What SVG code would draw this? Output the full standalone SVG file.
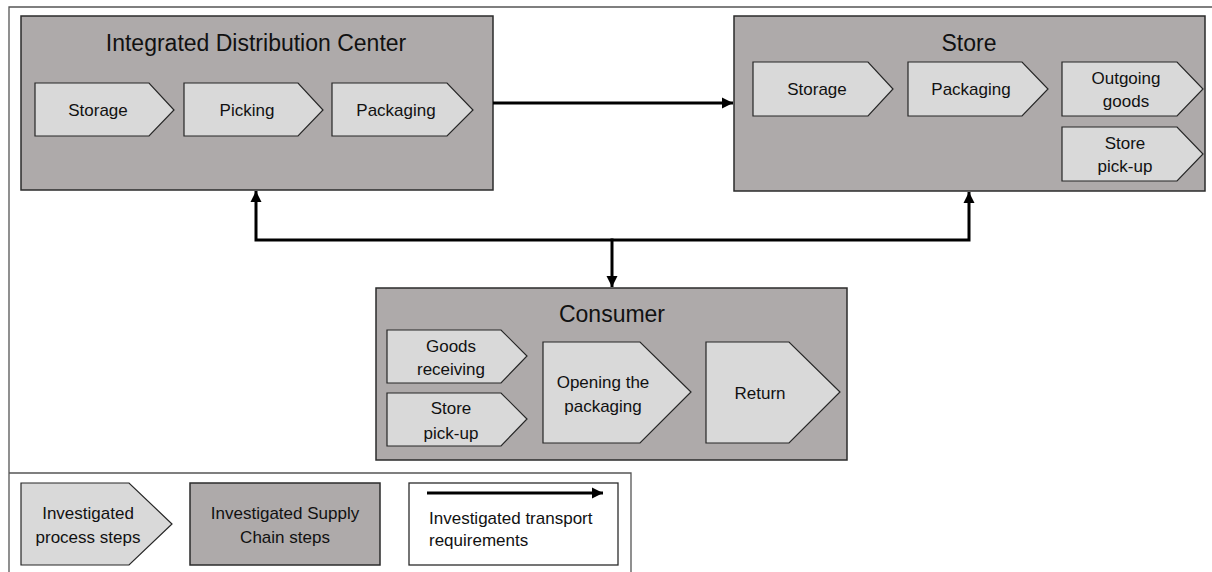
<svg xmlns="http://www.w3.org/2000/svg" width="1212" height="572" viewBox="0 0 1212 572">
<style>
.frame{fill:none;stroke:#555;stroke-width:1.3}
.box{fill:#AEAAAA;stroke:#2b2b2b;stroke-width:1.5}
.chev{fill:#D9D9D9;stroke:#262626;stroke-width:1.2}
.white{fill:#fff;stroke:#2b2b2b;stroke-width:1.3}
.title{font-family:"Liberation Sans",Arial,sans-serif;font-size:23px;fill:#111;text-anchor:middle}
.lbl{font-family:"Liberation Sans",Arial,sans-serif;font-size:17px;fill:#111;text-anchor:middle}
.lbll{font-family:"Liberation Sans",Arial,sans-serif;font-size:17px;fill:#111}
.conn{fill:none;stroke:#000;stroke-width:3}
</style>
<defs>
<marker id="ah" viewBox="0 0 10 10" refX="10" refY="5" markerWidth="3.8" markerHeight="3.8" orient="auto" markerUnits="strokeWidth">
<path d="M0,0 L10,5 L0,10 Z" fill="#000"/>
</marker>
</defs>
<rect width="1212" height="572" fill="#fff"/>
<g id="frame">
<path class="frame" d="M9,572 V7 H1212"/>
<path class="frame" d="M9,473 H631 V572"/>
</g>
<g id="idc">
<rect class="box" x="21" y="16" width="472" height="174"/>
<text class="title" x="256" y="51">Integrated Distribution Center</text>
<polygon class="chev" points="35,83 149,83 174,110 149,136 35,136"/>
<text class="lbl" x="98" y="116">Storage</text>
<polygon class="chev" points="184,83 298,83 323,110 298,136 184,136"/>
<text class="lbl" x="247" y="116">Picking</text>
<polygon class="chev" points="332,83 447,83 473,110 447,136 332,136"/>
<text class="lbl" x="396" y="116">Packaging</text>
</g>
<g id="store">
<rect class="box" x="734" y="16" width="471" height="175"/>
<text class="title" x="969" y="51">Store</text>
<polygon class="chev" points="753,62 868,62 893,89 868,116 753,116"/>
<text class="lbl" x="817" y="95">Storage</text>
<polygon class="chev" points="908,62 1022,62 1048,89 1022,116 908,116"/>
<text class="lbl" x="971" y="95">Packaging</text>
<polygon class="chev" points="1062,62 1177,62 1203,89 1177,116 1062,116"/>
<text class="lbl" x="1126" y="84">Outgoing</text>
<text class="lbl" x="1126" y="107">goods</text>
<polygon class="chev" points="1062,127 1177,127 1203,154 1177,181 1062,181"/>
<text class="lbl" x="1125" y="149">Store</text>
<text class="lbl" x="1125" y="172">pick-up</text>
</g>
<g id="consumer">
<rect class="box" x="376" y="288" width="471" height="172"/>
<text class="title" x="612" y="322">Consumer</text>
<polygon class="chev" points="387,330 501,330 527,356 501,383 387,383"/>
<text class="lbl" x="451" y="352">Goods</text>
<text class="lbl" x="451" y="375">receiving</text>
<polygon class="chev" points="387,393 501,393 527,419 501,446 387,446"/>
<text class="lbl" x="451" y="414">Store</text>
<text class="lbl" x="451" y="439">pick-up</text>
<polygon class="chev" points="543,342 640,342 691,392 640,443 543,443"/>
<text class="lbl" x="603" y="388">Opening the</text>
<text class="lbl" x="603" y="412">packaging</text>
<polygon class="chev" points="706,342 789,342 840,392 789,443 706,443"/>
<text class="lbl" x="760" y="399">Return</text>
</g>
<g id="connectors">
<line class="conn" x1="493" y1="103" x2="733" y2="103" marker-end="url(#ah)"/>
<polyline class="conn" points="612,240 256,240 256,191" marker-end="url(#ah)"/>
<polyline class="conn" points="612,240 969,240 969,192" marker-end="url(#ah)"/>
<line class="conn" x1="612" y1="238.5" x2="612" y2="287" marker-end="url(#ah)"/>
</g>
<g id="legend">
<g id="legend-process">
<polygon class="chev" points="21,483 129,483 172,524 129,565 21,565"/>
<text class="lbl" x="88" y="519">Investigated</text>
<text class="lbl" x="88" y="543">process steps</text>
</g>
<g id="legend-supply">
<rect class="box" x="190" y="483" width="190" height="82"/>
<text class="lbl" x="285" y="519">Investigated Supply</text>
<text class="lbl" x="285" y="543">Chain steps</text>
</g>
<g id="legend-transport">
<rect class="white" x="409" y="483" width="209" height="82"/>
<line class="conn" x1="427" y1="493" x2="603" y2="493" marker-end="url(#ah)"/>
<text class="lbll" x="429" y="524">Investigated transport</text>
<text class="lbll" x="429" y="546">requirements</text>
</g>
</g>
</svg>
